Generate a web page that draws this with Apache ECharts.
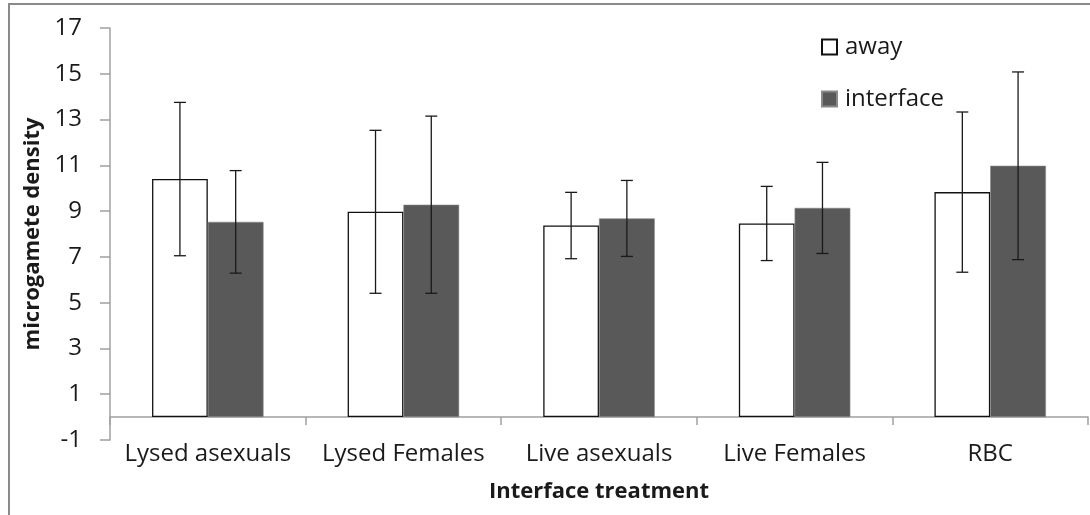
<!DOCTYPE html>
<html>
<head>
<meta charset="utf-8">
<script src="https://cdn.jsdelivr.net/npm/echarts@6/dist/echarts.min.js"></script>
<style>
  html, body { margin: 0; padding: 0; background: #fff; }
  #chart { width: 1090px; height: 515px; }
</style>
</head>
<body>
<div id="chart"></div>
<script>
// Treatments along the x axis
const categories = ['Lysed asexuals', 'Lysed Females', 'Live asexuals', 'Live Females', 'RBC'];
// Mean microgamete density per treatment
const awayValues = [10.4, 8.97, 8.37, 8.46, 9.83];
const interfaceValues = [8.53, 9.28, 8.68, 9.14, 10.98];
// Half-length of the error bars
const awayErrors = [3.35, 3.56, 1.45, 1.62, 3.5];
const interfaceErrors = [2.24, 3.87, 1.66, 1.99, 4.1];
// Y axis tick labels
const yTicks = [-1, 1, 3, 5, 7, 9, 11, 13, 15, 17];

const FONT = 'Open Sans';
const CAT_GAP = 0.43;

function errorSeries(name, values, errors, side) {
  return {
    name: name + ' error',
    type: 'custom',
    z: 5,
    silent: true,
    encode: { x: 0, y: [1, 2] },
    data: values.map((v, i) => [i, v - errors[i], v + errors[i]]),
    renderItem(params, api) {
      const i = api.value(0);
      const band = api.size([1, 0])[0];
      const bw = band * (1 - CAT_GAP) / 2;
      const x = api.coord([i, 0])[0] + side * bw / 2;
      const yLow = api.coord([i, api.value(1)])[1];
      const yHigh = api.coord([i, api.value(2)])[1];
      const cap = 6;
      const style = { stroke: '#1a1a1a', lineWidth: 1.3 };
      return {
        type: 'group',
        children: [
          { type: 'line', shape: { x1: x, y1: yLow, x2: x, y2: yHigh }, style },
          { type: 'line', shape: { x1: x - cap, y1: yHigh, x2: x + cap, y2: yHigh }, style },
          { type: 'line', shape: { x1: x - cap, y1: yLow, x2: x + cap, y2: yLow }, style }
        ]
      };
    }
  };
}

const chart = echarts.init(document.getElementById('chart'), null, { renderer: 'canvas' });
chart.setOption({
  animation: false,
  backgroundColor: '#fff',
  textStyle: { fontFamily: FONT },
  graphic: [{
    type: 'rect',
    shape: { x: 9, y: 4, width: 1200, height: 700 },
    style: { fill: 'none', stroke: '#8a8a8a', lineWidth: 2 },
    silent: true
  }],
  grid: { left: 110, top: 28, right: 2, height: 412, containLabel: false, outerBoundsMode: 'none' },
  legend: {
    orient: 'vertical',
    left: 821,
    top: 35,
    padding: 0,
    itemWidth: 15,
    itemHeight: 15,
    itemGap: 28,
    icon: 'rect',
    data: ['away', 'interface'],
    textStyle: { fontFamily: FONT, fontSize: 24, color: '#1a1a1a', padding: [0, 0, 0, 3] }
  },
  xAxis: {
    type: 'category',
    data: categories,
    name: 'Interface treatment',
    nameLocation: 'middle',
    nameGap: 41,
    nameTextStyle: { fontFamily: FONT, fontSize: 22, fontWeight: 'bold', color: '#1a1a1a' },
    axisLine: { onZero: true, lineStyle: { color: '#a0a0a0', width: 1.5 } },
    axisTick: { show: true, length: 8, lineStyle: { color: '#a0a0a0', width: 1.5 } },
    axisLabel: { fontFamily: FONT, fontSize: 24, color: '#1a1a1a', margin: 2, interval: 0 }
  },
  yAxis: {
    type: 'value',
    min: -1,
    max: 17,
    name: 'microgamete density',
    nameLocation: 'middle',
    nameGap: 66,
    nameTextStyle: { fontFamily: FONT, fontSize: 22, fontWeight: 'bold', color: '#1a1a1a' },
    splitLine: { show: false },
    axisLine: { show: true, lineStyle: { color: '#a0a0a0', width: 1.5 } },
    axisTick: { show: true, length: 10, customValues: yTicks, lineStyle: { color: '#a0a0a0', width: 1.5 } },
    axisLabel: { fontFamily: FONT, fontSize: 24, color: '#1a1a1a', margin: 28, customValues: yTicks }
  },
  series: [
    {
      name: 'away',
      type: 'bar',
      data: awayValues,
      barGap: '0%',
      barCategoryGap: (CAT_GAP * 100) + '%',
      itemStyle: { color: '#ffffff', borderColor: '#111', borderWidth: 1.3 }
    },
    {
      name: 'interface',
      type: 'bar',
      data: interfaceValues,
      itemStyle: { color: '#595959', borderColor: '#8a8a8a', borderWidth: 0.6 }
    },
    errorSeries('away', awayValues, awayErrors, -1),
    errorSeries('interface', interfaceValues, interfaceErrors, 1)
  ]
});
</script>
</body>
</html>
